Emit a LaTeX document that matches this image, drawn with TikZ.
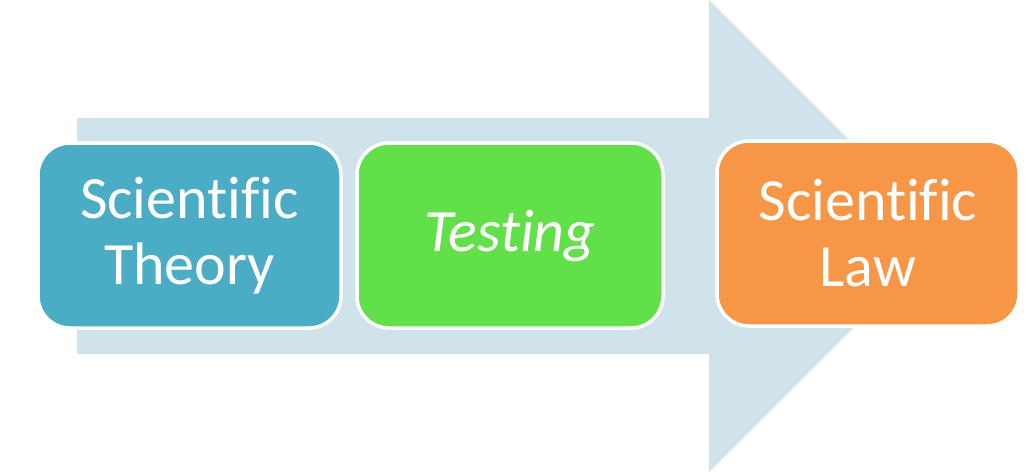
\documentclass[tikz,border=0pt]{standalone}
\usepackage{fontspec}
\setmainfont{Carlito}[Ligatures={NoCommon,NoRare,NoContextual}]
\definecolor{arrowblue}{HTML}{D0E3EB}
\definecolor{boxblue}{HTML}{4BACC6}
\definecolor{boxgreen}{HTML}{62E049}
\definecolor{boxorange}{HTML}{F79646}
\begin{document}
\begin{tikzpicture}[x=1pt,y=-1pt,
  stagebox/.style={draw=white, line width=3.5pt, rounded corners=32pt,
    text=white, align=center, inner sep=0pt,
    font=\fontsize{60}{66}\selectfont},
  ]
\useasboundingbox (0,0) rectangle (1030,472);
\fill[arrowblue] (77,118) -- (709,118) -- (709,0) -- (945,236) -- (709,472) -- (709,354) -- (77,354) -- cycle;
\node[stagebox, fill=boxblue, minimum width=303pt, minimum height=185pt] (theory) at (189.5,235.5) {Scientific\\Theory};
\node[stagebox, fill=boxgreen, minimum width=306pt, minimum height=185pt] (testing) at (510,235.5) {\itshape Testing};
\node[stagebox, fill=boxorange, minimum width=302pt, minimum height=185pt] (law) at (868,233.5) {Scientific\\Law};
\end{tikzpicture}
\end{document}
